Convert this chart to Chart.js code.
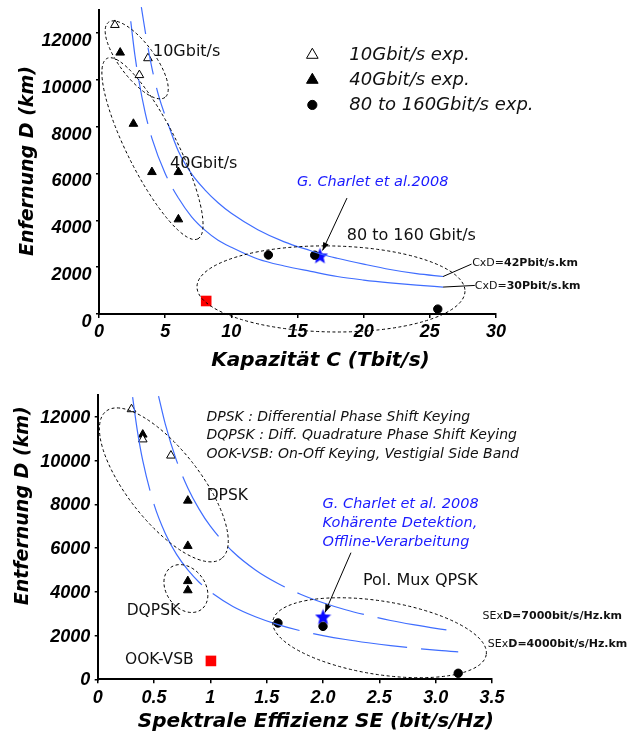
<!DOCTYPE html>
<html>
<head>
<meta charset="utf-8">
<script src="https://cdn.jsdelivr.net/npm/chart.js@4/dist/chart.umd.min.js"></script>
<style>
  html, body { margin: 0; padding: 0; background: #fff; }
  #wrap { position: relative; width: 640px; height: 738px; overflow: hidden; }
  #capChart { position: absolute; left: 0; top: 0; }
  #seChart { position: absolute; left: 0; top: 370px; }
</style>
</head>
<body>
<div id="wrap">
  <canvas id="seChart" width="640" height="368"></canvas>
  <canvas id="capChart" width="640" height="375"></canvas>
</div>
<script>
// ---- data: Kapazität C (Tbit/s) vs Entfernung D (km) ----
const capTicks = [0, 5, 10, 15, 20, 25, 30];
const capTickLabels = ["0", "5", "10", "15", "20", "25", "30"];
const distTicks = [0, 2000, 4000, 6000, 8000, 10000, 12000];
const distTickLabels = ["0", "2000", "4000", "6000", "8000", "10000", "12000"];

const cap10G = [[1.2, 12340], [3.05, 10200], [3.7, 10920]];
const cap40G = [[1.6, 11160], [2.6, 8120], [4.0, 6060], [6.0, 6060], [6.0, 4040]];
const cap80G = [[12.8, 2520], [16.3, 2510], [25.6, 210]];
const capCharlet = [[16.7, 2480]];
const capOokVsb = [[8.1, 555]];
// CxD = 42 Pbit/s.km and 30 Pbit/s.km
const capLine42 = [[3.2, 13100], [3.6, 11700], [4.0, 10500], [4.5, 9330], [5.2, 8150], [6, 6950], [7, 5980],
  [8, 5300], [9, 4750], [10, 4300], [12, 3600], [14, 3080], [16, 2700], [17, 2520], [18, 2380], [20, 2130],
  [22, 1900], [24, 1720], [26, 1600]];
const capLine30 = [[2.4, 12500], [2.7, 11100], [3.0, 10000], [3.5, 8570], [4.0, 7500], [5.0, 6000], [6.0, 4950],
  [7, 4150], [8, 3580], [9, 3150], [10, 2850], [12, 2350], [14, 2050], [16, 1820], [18, 1600], [20, 1450],
  [22, 1330], [24, 1230], [26, 1150]];

// ---- data: Spektrale Effizienz SE (bit/s/Hz) vs Entfernung D (km) ----
const seTicks = [0, 0.5, 1, 1.5, 2, 2.5, 3, 3.5];
const seTickLabels = ["0", "0.5", "1", "1.5", "2.0", "2.5", "3.0", "3.5"];

const se10G = [[0.3, 12350], [0.4, 10970], [0.65, 10230]];
const se40G = [[0.4, 11190], [0.8, 8170], [0.8, 6100], [0.8, 4490], [0.8, 4070]];
const se80G = [[1.6, 2575], [2.0, 2420], [3.2, 276]];
const seCharlet = [[2.0, 2850]];
const seOokVsb = [[1.005, 840]];
// SExD = 7000 and 4000 bit/s/Hz.km
const seLine7000 = [[0.54, 12950], [0.6, 11670], [0.7, 10000], [0.8, 8750], [0.9, 7780], [1.0, 7000], [1.2, 5830],
  [1.4, 5000], [1.6, 4380], [1.8, 3890], [2.0, 3500], [2.2, 3180], [2.4, 2920], [2.6, 2690], [2.8, 2500],
  [3.0, 2330], [3.2, 2190]];
const seLine4000 = [[0.31, 12900], [0.35, 11430], [0.4, 10000], [0.5, 8000], [0.6, 6670], [0.7, 5710], [0.8, 5000],
  [0.9, 4440], [1.0, 4000], [1.2, 3330], [1.4, 2860], [1.6, 2500], [1.8, 2220], [2.0, 2000], [2.2, 1820],
  [2.4, 1670], [2.6, 1540], [2.8, 1430], [3.0, 1330], [3.2, 1250]];

// ---- styles ----
const curveBlue = "#3f6dff";
const textBlue = "#1a1aff";
const SANS = "'DejaVu Sans', sans-serif";
const TICKFONT = "'Liberation Sans', Arial, sans-serif";

function makeStar(size, color) {
  const c = document.createElement("canvas");
  c.width = c.height = size;
  const g = c.getContext("2d");
  g.fillStyle = color;
  g.beginPath();
  for (let i = 0; i < 10; i++) {
    const r = i % 2 ? size * 0.22 : size * 0.5;
    const a = -Math.PI / 2 + i * Math.PI / 5;
    g.lineTo(size / 2 + r * Math.cos(a), size / 2 + 0.5 + r * Math.sin(a));
  }
  g.closePath();
  g.fill();
  return c;
}
const starImg = makeStar(17, "#0a0aff");

const openTri = { pointStyle: "triangle", pointRadius: 5, pointBackgroundColor: "#fff", pointBorderColor: "#000", pointBorderWidth: 1 };
const fillTri = { pointStyle: "triangle", pointRadius: 5, pointBackgroundColor: "#000", pointBorderColor: "#000", pointBorderWidth: 1 };
const dot = { pointStyle: "circle", pointRadius: 4.2, pointBackgroundColor: "#000", pointBorderColor: "#000", pointBorderWidth: 1 };
const redSq = { pointStyle: "rect", pointRadius: 7.5, pointBackgroundColor: "#ff0000", pointBorderColor: "#ff0000", pointBorderWidth: 0 };
const star = { pointStyle: starImg, pointRadius: 8 };

function marks(label, data, style) {
  return Object.assign({ label, data, showLine: false, clip: false }, style);
}

function curve(label, data, dash, dashUntil) {
  const ds = {
    label, data, showLine: true, pointRadius: 0, borderColor: curveBlue, borderWidth: 1.2,
    tension: 0.4, cubicInterpolationMode: "monotone", clip: false,
    borderDash: dashUntil == null ? dash : []
  };
  if (dashUntil != null) ds.segment = { borderDash: c => (c.p1.parsed.x <= dashUntil ? dash : undefined) };
  return ds;
}

// ---- annotations: dashed rings, leader lines, labels, key, axis titles ----
function notesPlugin(notes) {
  return {
    id: "notes",
    afterDatasetsDraw(chart) {
      const { ctx } = chart;
      const sx = chart.scales.x, sy = chart.scales.y;
      const P = p => [sx.getPixelForValue(p[0]), sy.getPixelForValue(p[1])];
      ctx.save();

      ctx.strokeStyle = "#000";
      ctx.lineWidth = 1;
      ctx.setLineDash([3, 2.5]);
      for (const e of notes.rings || []) {
        const [cx, cy] = P(e.at);
        ctx.beginPath();
        ctx.ellipse(cx, cy, e.rx, e.ry, e.rot * Math.PI / 180, 0, 2 * Math.PI);
        ctx.stroke();
      }
      ctx.setLineDash([]);

      for (const l of notes.leaders || []) {
        let [x0, y0] = P(l.from), [x1, y1] = P(l.to);
        const len = Math.hypot(x1 - x0, y1 - y0);
        const ux = (x1 - x0) / len, uy = (y1 - y0) / len;
        if (l.trim) { x1 -= ux * l.trim; y1 -= uy * l.trim; }
        ctx.strokeStyle = "#000";
        ctx.lineWidth = 1;
        ctx.beginPath();
        ctx.moveTo(x0, y0);
        ctx.lineTo(x1, y1);
        ctx.stroke();
        if (l.arrow) {
          ctx.fillStyle = "#000";
          ctx.beginPath();
          ctx.moveTo(x1, y1);
          ctx.lineTo(x1 - ux * 8 - uy * 3, y1 - uy * 8 + ux * 3);
          ctx.lineTo(x1 - ux * 8 + uy * 3, y1 - uy * 8 - ux * 3);
          ctx.closePath();
          ctx.fill();
        }
      }

      ctx.textBaseline = "middle";
      ctx.textAlign = "left";
      for (const t of notes.texts || []) {
        const [x, y] = P(t.at);
        const lines = Array.isArray(t.lines) ? t.lines : [t.lines];
        lines.forEach((line, i) => {
          const parts = Array.isArray(line) ? line : [[line, "normal"]];
          let cx = x;
          for (const [str, w] of parts) {
            ctx.font = `${t.italic ? "italic " : ""}${w} ${t.size}px ${SANS}`;
            ctx.fillStyle = t.color || "#111";
            ctx.fillText(str, cx, y + i * (t.gap || 0));
            cx += ctx.measureText(str).width;
          }
        });
      }

      if (notes.key) {
        const k = notes.key;
        const [kx, ky] = P(k.at);
        k.rows.forEach((di, i) => {
          const ds = chart.data.datasets[di];
          const y = ky + i * k.gap;
          ctx.fillStyle = ds.pointBackgroundColor;
          ctx.strokeStyle = ds.pointBorderColor;
          ctx.lineWidth = 1;
          Chart.helpers.drawPoint(ctx, { pointStyle: ds.pointStyle, radius: k.radius[i], borderWidth: 1, rotation: 0 }, kx, y);
          ctx.font = `italic normal ${k.size}px ${SANS}`;
          ctx.fillStyle = "#111";
          ctx.fillText(ds.label, kx + k.dx, y);
        });
      }

      // axis titles, placed along the axis by value and off the scale edge by a few pixels
      ctx.textAlign = "center";
      ctx.fillStyle = "#000";
      for (const at of notes.axisTitles || []) {
        ctx.save();
        ctx.font = `italic bold ${at.size}px ${SANS}`;
        if (at.axis === "x") {
          ctx.translate(sx.getPixelForValue(at.at), sx.bottom - at.off);
        } else {
          ctx.translate(sy.left + at.off, sy.getPixelForValue(at.at));
          ctx.rotate(-Math.PI / 2);
        }
        ctx.fillText(at.text, 0, 0);
        ctx.restore();
      }
      ctx.restore();
    }
  };
}

function scalesFor(o) {
  const tickFont = { family: TICKFONT, size: 18, weight: "bold", style: "italic" };
  return {
    x: {
      type: "linear",
      min: o.xTicks[0], max: o.xTicks[o.xTicks.length - 1],
      afterBuildTicks: s => { s.ticks = o.xTicks.map(v => ({ value: v })); },
      afterFit: s => { s.height = o.xAxisH; s.paddingLeft = 0; s.paddingRight = 0; },
      border: { color: "#000", width: 2 },
      grid: { drawOnChartArea: false, drawTicks: true, tickLength: 4, color: "#000", lineWidth: 1.5 },
      ticks: { color: "#000", font: tickFont, padding: o.xPad, maxRotation: 0, autoSkip: false, callback: (v, i) => o.xLabels[i] }
    },
    y: {
      type: "linear",
      min: 0, max: 13000,
      afterBuildTicks: s => { s.ticks = distTicks.map(v => ({ value: v })); },
      afterFit: s => { s.width = o.yAxisW; s.paddingTop = 0; s.paddingBottom = 0; },
      border: { color: "#000", width: 2 },
      grid: { drawOnChartArea: false, drawTicks: true, tickLength: 3, color: "#000", lineWidth: 1.5 },
      ticks: { color: "#000", font: tickFont, padding: 4.5, labelOffset: o.yLabelOffset, autoSkip: false, callback: (v, i) => distTickLabels[i] }
    }
  };
}

Chart.defaults.font.family = SANS;

// ---- top chart ----
new Chart(document.getElementById("capChart"), {
  type: "scatter",
  data: {
    datasets: [
      curve("CxD=42Pbit/s.km", capLine42, [27, 14], 5.2),
      curve("CxD=30Pbit/s.km", capLine30, [46, 12], 6.0),
      marks("10Gbit/s exp.", cap10G, openTri),
      marks("40Gbit/s exp.", cap40G, fillTri),
      marks("80 to 160Gbit/s exp.", cap80G, dot),
      marks("G. Charlet et al.2008", capCharlet, star),
      marks("OOK-VSB", capOokVsb, redSq)
    ]
  },
  options: {
    responsive: false, animation: false, events: [], devicePixelRatio: 1,
    layout: { padding: { top: 9.5, right: 144, left: 0, bottom: 0 } },
    plugins: { legend: { display: false }, tooltip: { enabled: false } },
    scales: scalesFor({ xTicks: capTicks, xLabels: capTickLabels, xAxisH: 61, xPad: 3, yAxisW: 99, yLabelOffset: 8 })
  },
  plugins: [notesPlugin({
    rings: [
      { at: [2.85, 10850], rx: 47, ry: 17.5, rot: 53 },
      { at: [4.04, 7060], rx: 101, ry: 25, rot: 63.3 },
      { at: [17.53, 1070], rx: 134, ry: 43, rot: 1 }
    ],
    leaders: [
      { from: [18.74, 4950], to: [16.7, 2480], arrow: true, trim: 6 },
      { from: [26.0, 1600], to: [28.15, 2130] },
      { from: [26.0, 1150], to: [28.4, 1220] }
    ],
    texts: [
      { at: [4.08, 11200], lines: "10Gbit/s", size: 16 },
      { at: [5.37, 6400], lines: "40Gbit/s", size: 16 },
      { at: [18.72, 3330], lines: "80 to 160 Gbit/s", size: 16 },
      { at: [14.96, 5640], lines: "G. Charlet et al.2008", size: 14.5, italic: true, color: textBlue },
      { at: [28.2, 2165], lines: [[["CxD=", "normal"], ["42Pbit/s.km", "bold"]]], size: 11 },
      { at: [28.4, 1196], lines: [[["CxD=", "normal"], ["30Pbit/s.km", "bold"]]], size: 11 }
    ],
    key: { at: [16.12, 11060], rows: [2, 3, 4], gap: 25, dx: 37, size: 18, radius: [6.7, 6.7, 4.6] },
    axisTitles: [
      { axis: "x", text: "Kapazität C (Tbit/s)", at: 16.74, off: 14, size: 20 },
      { axis: "y", text: "Enfernung D (km)", at: 6530, off: 28.3, size: 19 }
    ]
  })]
});

// ---- bottom chart ----
new Chart(document.getElementById("seChart"), {
  type: "scatter",
  data: {
    datasets: [
      curve("SExD=7000bit/s/Hz.km", seLine7000, [70, 14]),
      curve("SExD=4000bit/s/Hz.km", seLine4000, [95, 14]),
      marks("10Gbit/s exp.", se10G, openTri),
      marks("40Gbit/s exp.", se40G, fillTri),
      marks("80 to 160Gbit/s exp.", se80G, dot),
      marks("G. Charlet et al. 2008", seCharlet, star),
      marks("OOK-VSB", seOokVsb, redSq)
    ]
  },
  options: {
    responsive: false, animation: false, events: [], devicePixelRatio: 1,
    layout: { padding: { top: 25, right: 148, left: 0, bottom: 0 } },
    plugins: { legend: { display: false }, tooltip: { enabled: false } },
    scales: scalesFor({ xTicks: seTicks, xLabels: seTickLabels, xAxisH: 58.7, xPad: 4, yAxisW: 97.7, yLabelOffset: 1 })
  },
  plugins: [notesPlugin({
    rings: [
      { at: [0.587, 8890], rx: 93.6, ry: 36.3, rot: 51.9 },
      { at: [0.783, 4150], rx: 26, ry: 19.5, rot: 54 },
      { at: [2.502, 1900], rx: 108, ry: 36.7, rot: 9 }
    ],
    leaders: [
      { from: [2.248, 5790], to: [2.0, 2850], arrow: true, trim: 5 }
    ],
    texts: [
      { at: [0.965, 12000], lines: ["DPSK : Differential Phase Shift Keying", "DQPSK : Diff. Quadrature Phase Shift Keying",
        "OOK-VSB: On-Off Keying, Vestigial Side Band"], size: 14, italic: true, gap: 18.7 },
      { at: [0.967, 8395], lines: "DPSK", size: 15.5 },
      { at: [0.257, 3108], lines: "DQPSK", size: 15.5 },
      { at: [0.242, 887], lines: "OOK-VSB", size: 15.5 },
      { at: [1.996, 8014], lines: ["G. Charlet et al. 2008", "Kohärente Detektion,", "Offline-Verarbeitung"],
        size: 14.5, italic: true, color: textBlue, gap: 19 },
      { at: [2.354, 4487], lines: "Pol. Mux QPSK", size: 16 },
      { at: [3.416, 2878], lines: [[["SEx", "normal"], ["D=7000bit/s/Hz.km", "bold"]]], size: 11 },
      { at: [3.463, 1623], lines: [[["SEx", "normal"], ["D=4000bit/s/Hz.km", "bold"]]], size: 11 }
    ],
    axisTitles: [
      { axis: "x", text: "Spektrale Effizienz SE (bit/s/Hz)", at: 1.937, off: 16, size: 20 },
      { axis: "y", text: "Entfernung D (km)", at: 7936, off: 23.3, size: 19 }
    ]
  })]
});
</script>
</body>
</html>
